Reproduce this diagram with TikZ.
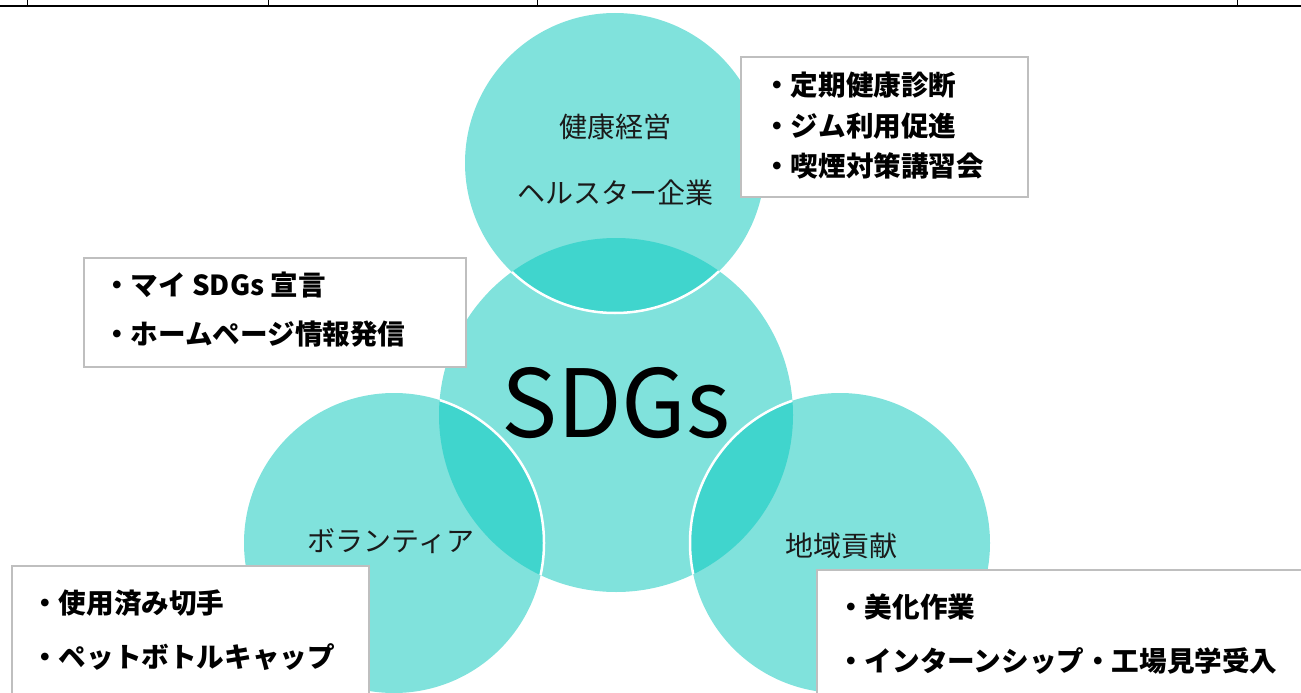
\documentclass[tikz,border=0pt]{standalone}
\usepackage{fontspec}
\setmainfont{Noto Sans CJK JP}
\definecolor{lightc}{HTML}{80E2DC}
\definecolor{darkc}{HTML}{40D5CD}
\definecolor{boxline}{HTML}{BFBFBF}
\definecolor{labc}{HTML}{1A1A1A}
\tikzset{
  infobox/.style={draw=boxline, line width=1.5pt, fill=white},
  item/.style={anchor=west, inner sep=0pt, font=\fontsize{27.6}{30}\selectfont\bfseries, text=black},
  clabel/.style={inner sep=0pt, font=\fontsize{28}{30}\selectfont, text=labc},
  tabline/.style={line width=2pt, black},
  tick/.style={line width=1pt, black}
}
\begin{document}
\begin{tikzpicture}[x=1pt,y=-1pt]
\useasboundingbox (0,0) rectangle (1301,693);
\clip (0,0) rectangle (1301,693);
% table remnant at the top
\coordinate (h1) at (0,6);
\coordinate (h2) at (1301,6);
\draw[tabline] (h1) -- (h2);
\foreach \x [count=\i] in {27,268,537,1237}{
  \coordinate (t\i a) at (\x,0);
  \coordinate (t\i b) at (\x,6);
  \draw[tick] (t\i a) -- (t\i b);
}
% circles
\coordinate (cT) at (615,163);
\coordinate (cC) at (616,415);
\coordinate (cL) at (394,543);
\coordinate (cR) at (840,543);
\fill[lightc] (cC) circle[radius=177];
\fill[lightc] (cT) circle[radius=150];
\fill[lightc] (cL) circle[radius=150];
\fill[lightc] (cR) circle[radius=150];
\begin{scope}
  \clip (cC) circle[radius=177];
  \fill[darkc] (cT) circle[radius=150];
  \fill[darkc] (cL) circle[radius=150];
  \fill[darkc] (cR) circle[radius=150];
  \draw[white, line width=2.5pt] (cT) circle[radius=150];
  \draw[white, line width=2.5pt] (cL) circle[radius=150];
  \draw[white, line width=2.5pt] (cR) circle[radius=150];
\end{scope}
% circle labels
\node[clabel] (kk) at (615,127) {健康経営};
\node[clabel] (hs) at (615,193) {ヘルスター企業};
\node[inner sep=0pt, font=\fontsize{94}{100}\selectfont, text=black] (sdgs) at (616,403) {SDGs};
\node[clabel] (vo) at (391,541) {ボランティア};
\node[clabel] (ck) at (841,546) {地域貢献};
% boxes
\coordinate (b1a) at (741,57);  \coordinate (b1b) at (1028,197);
\coordinate (b2a) at (84,258);  \coordinate (b2b) at (466,367);
\coordinate (b3a) at (12,566);  \coordinate (b3b) at (369,710);
\coordinate (b4a) at (817,570); \coordinate (b4b) at (1320,710);
\draw[infobox] (b1a) rectangle (b1b);
\draw[infobox] (b2a) rectangle (b2b);
\draw[infobox] (b3a) rectangle (b3b);
\draw[infobox] (b4a) rectangle (b4b);
\node[item] (i11) at (763,85)  {・定期健康診断};
\node[item] (i12) at (763,126) {・ジム利用促進};
\node[item] (i13) at (763,166) {・喫煙対策講習会};
\node[item] (i21) at (103,285) {・マイ SDGs 宣言};
\node[item] (i22) at (103,334) {・ホームページ情報発信};
\node[item] (i31) at (31,603)  {・使用済み切手};
\node[item] (i32) at (31,657)  {・ペットボトルキャップ};
\node[item] (i41) at (837,607) {・美化作業};
\node[item] (i42) at (837,661) {・インターンシップ・工場見学受入};
\end{tikzpicture}
\end{document}
